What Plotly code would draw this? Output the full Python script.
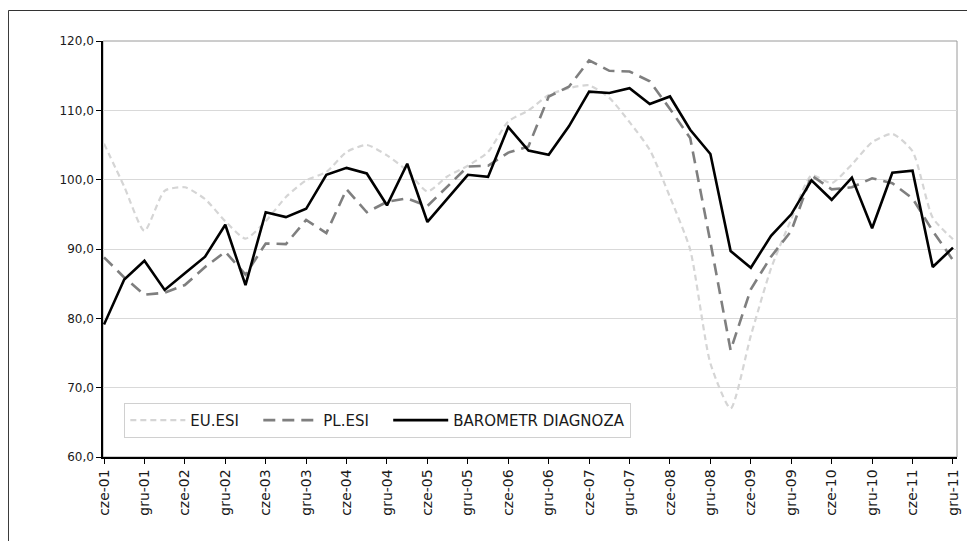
import plotly.graph_objects as go

# quarterly observations, cze-01 (Jun 2001) .. gru-11 (Dec 2011)
tick_labels = ["cze-01", "gru-01", "cze-02", "gru-02", "cze-03", "gru-03", "cze-04", "gru-04",
               "cze-05", "gru-05", "cze-06", "gru-06", "cze-07", "gru-07", "cze-08", "gru-08",
               "cze-09", "gru-09", "cze-10", "gru-10", "cze-11", "gru-11"]

eu_esi = [105.2, 99.0, 92.6, 98.4, 98.9, 97.2, 94.0, 91.5, 94.0, 97.5,
          99.9, 101.1, 104.0, 105.0, 103.5, 101.3, 98.3, 100.5, 102.0, 104.0,
          108.4, 110.0, 112.2, 113.2, 113.6, 111.8, 108.3, 104.3, 97.5, 89.9,
          73.5, 67.0, 77.5, 87.2, 94.3, 100.6, 99.5, 102.2, 105.4, 106.6,
          104.1, 94.5, 91.4]

pl_esi = [88.8, 85.9, 83.4, 83.7, 84.8, 87.4, 89.6, 86.3, 90.8, 90.7,
          94.2, 92.3, 98.6, 95.3, 96.8, 97.3, 96.2, 99.0, 101.9, 102.0,
          103.9, 104.8, 112.0, 113.4, 117.2, 115.7, 115.6, 114.2, 110.2, 106.0,
          91.0, 75.4, 84.2, 88.9, 92.6, 100.6, 98.6, 98.9, 100.2, 99.5,
          97.3, 92.6, 88.4]

barometr = [79.1, 85.6, 88.3, 84.1, 86.5, 88.9, 93.5, 84.8, 95.3, 94.6,
            95.8, 100.7, 101.7, 100.9, 96.3, 102.3, 93.9, 97.3, 100.7, 100.4,
            107.6, 104.2, 103.6, 107.7, 112.7, 112.5, 113.2, 110.9, 112.0, 107.2,
            103.7, 89.7, 87.3, 91.9, 95.0, 99.9, 97.1, 100.3, 93.0, 101.0,
            101.3, 87.4, 90.2]

series_names = ["EU.ESI", "PL.ESI", "BAROMETR DIAGNOZA"]

x = list(range(len(barometr)))
tick_vals = list(range(0, len(barometr), 2))

FONT = "DejaVu Sans"
NB = "\u00a0"

fig = go.Figure()
fig.add_trace(go.Scatter(
    x=x, y=eu_esi, name=series_names[0] + NB * 3, mode="lines",
    line=dict(color="#d5d5d5", width=2.2, dash="6px,4px", shape="spline", smoothing=0.6),
))
fig.add_trace(go.Scatter(
    x=x, y=pl_esi, name=series_names[1] + NB * 3, mode="lines",
    line=dict(color="#7f7f7f", width=2.6, dash="12px,7px"),
))
fig.add_trace(go.Scatter(
    x=x, y=barometr, name=series_names[2], mode="lines",
    line=dict(color="#000000", width=2.6),
))

# the page body has an 8px margin, so the figure is 8px smaller than the window
fig.update_layout(
    width=967, height=533,
    margin=dict(l=95, r=18, t=33, b=84),
    paper_bgcolor="white", plot_bgcolor="white",
    separators=", ",
    font=dict(family=FONT, size=12, color="#1a1a1a"),
    showlegend=True,
    legend=dict(
        orientation="h", x=0.025, y=0.13, xanchor="left", yanchor="top",
        bordercolor="#d0d0d0", borderwidth=1, bgcolor="white",
        font=dict(family=FONT, size=15, color="#1a1a1a"),
        itemwidth=55,
        traceorder="normal",
    ),
    shapes=[
        dict(type="rect", xref="paper", yref="paper", x0=0, y0=0, x1=1, y1=1,
             line=dict(color="#9a9a9a", width=1), layer="below"),
        dict(type="line", xref="paper", yref="paper", x0=-0.1107, y0=1.0733, x1=1.05, y1=1.0733,
             line=dict(color="#333333", width=1)),
        dict(type="line", xref="paper", yref="paper", x0=-0.1107, y0=-0.21, x1=-0.1107, y1=1.0733,
             line=dict(color="#333333", width=1)),
    ],
)

fig.update_xaxes(
    range=[-0.05, 42.2],
    tickmode="array", tickvals=tick_vals, ticktext=tick_labels,
    tickangle=-90, tickfont=dict(family=FONT, size=14, color="#1a1a1a"),
    ticks="outside", ticklen=5, tickcolor="#000000",
    showline=True, linecolor="#000000", linewidth=1.5,
    showgrid=False, zeroline=False,
)
fig.update_yaxes(
    range=[60, 120], dtick=10, tickformat=".1f",
    tickfont=dict(family=FONT, size=12, color="#1a1a1a"),
    ticks="outside", ticklen=5, tickcolor="#000000",
    showline=True, linecolor="#000000", linewidth=1.5,
    showgrid=True, gridcolor="#d9d9d9", gridwidth=1.3,
    zeroline=False,
)

fig.write_html("out.html")
